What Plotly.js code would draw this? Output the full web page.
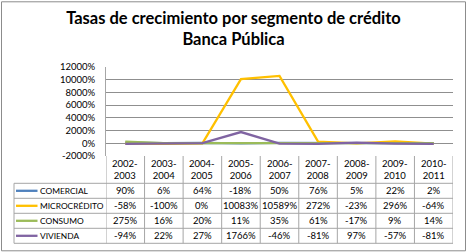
<!DOCTYPE html>
<html>
<head>
<meta charset="utf-8">
<script src="https://cdn.plot.ly/plotly-3.0.1.min.js"></script>
<style>
  html, body { margin: 0; padding: 0; background: #fff; }
  #chart { width: 467px; height: 252px; }
</style>
</head>
<body>
<div id="chart"></div>
<script>
// Periods (categories) and growth rates (%) per credit segment
const periods = ['2002-2003', '2003-2004', '2004-2005', '2005-2006', '2006-2007',
                 '2007-2008', '2008-2009', '2009-2010', '2010-2011'];
const comercial    = [90, 6, 64, -18, 50, 76, 5, 22, 2];
const microcredito = [-58, -100, 0, 10083, 10589, 272, -23, 296, -64];
const consumo      = [275, 16, 20, 11, 35, 61, -17, 9, 14];
const vivienda     = [-94, 22, 27, 1766, -46, -81, 97, -57, -81];

const seriesNames  = ['COMERCIAL', 'MICROCRÉDITO', 'CONSUMO', 'VIVIENDA'];
const seriesValues = [comercial, microcredito, consumo, vivienda];
const seriesColors = ['#4F81BD', '#FFC000', '#9BBB59', '#8064A2'];

const yTickValues = [-2000, 0, 2000, 4000, 6000, 8000, 10000, 12000];
const yTickLabels = ['-2000%', '0%', '2000%', '4000%', '6000%', '8000%', '10000%', '12000%'];

// ---- layout geometry (pixels) ----
const W = 467, H = 252;
const L = 106, R = 453, T = 66.7, B = 155.7;   // plot area
const plotW = R - L, plotH = B - T;
const headerBottom = 183;                      // data table header row
const rowH = 15;                               // data table body rows
const legendLeft = 14;                         // left edge of the legend column
const FONT = 'Lato, "Open Sans", sans-serif';
const TXT = 9.5;
const gridColor = '#8f8f8f';
const tableColor = '#a6a6a6';

const px2x = px => (px - L) / plotW;           // pixel -> paper x
const py2y = py => (B - py) / plotH;           // pixel -> paper y

const traces = seriesNames.map((name, i) => ({
  type: 'scatter',
  mode: 'lines',
  name: name,
  x: periods,
  y: seriesValues[i],
  line: { color: seriesColors[i], width: 2.3 },
  hoverinfo: 'skip'
}));

const shapes = [];
const annotations = [];

// outer chart frame
shapes.push({
  type: 'rect', xref: 'paper', yref: 'paper',
  x0: px2x(1.5), x1: px2x(465.5), y0: py2y(250.5), y1: py2y(1.5),
  line: { color: '#8c8c8c', width: 1 }, fillcolor: 'rgba(0,0,0,0)', layer: 'below'
});

// data table: horizontal rules
const rowTops = [headerBottom];
for (let r = 1; r <= seriesNames.length; r++) rowTops.push(headerBottom + r * rowH);
rowTops.forEach(py => {
  shapes.push({ type: 'line', xref: 'paper', yref: 'paper',
    x0: px2x(legendLeft), x1: 1, y0: py2y(py), y1: py2y(py),
    line: { color: tableColor, width: 1 } });
});
const tableBottom = rowTops[rowTops.length - 1];

// data table: vertical rules on category boundaries
for (let k = 0; k <= periods.length; k++) {
  shapes.push({ type: 'line', xref: 'x', yref: 'paper',
    x0: k - 0.5, x1: k - 0.5, y0: py2y(B), y1: py2y(tableBottom),
    line: { color: tableColor, width: 1 } });
}
// legend column left edge
shapes.push({ type: 'line', xref: 'paper', yref: 'paper',
  x0: px2x(legendLeft), x1: px2x(legendLeft), y0: py2y(headerBottom), y1: py2y(tableBottom),
  line: { color: tableColor, width: 1 } });

const cellFont = { family: FONT, size: TXT, color: '#000' };
const nameFont = { family: FONT, size: 8.4, color: '#000' };

// header cells (period labels)
periods.forEach((p, k) => {
  annotations.push({
    xref: 'x', yref: 'paper', x: k, y: py2y((B + headerBottom) / 2),
    xanchor: 'center', yanchor: 'middle',
    text: p.replace('-', '-<br>'), showarrow: false, font: cellFont, align: 'center'
  });
});

// body rows: legend key, series name, values
seriesNames.forEach((name, i) => {
  const cy = py2y(headerBottom + (i + 0.5) * rowH);
  shapes.push({ type: 'line', xref: 'paper', yref: 'paper',
    x0: px2x(16), x1: px2x(37.5), y0: cy, y1: cy,
    line: { color: seriesColors[i], width: 2.3 } });
  annotations.push({
    xref: 'paper', yref: 'paper', x: px2x(38), y: cy, xanchor: 'left', yanchor: 'middle',
    text: name, showarrow: false, font: nameFont
  });
  seriesValues[i].forEach((v, k) => {
    annotations.push({
      xref: 'x', yref: 'paper', x: k, y: cy, xanchor: 'center', yanchor: 'middle',
      text: v + '%', showarrow: false, font: cellFont
    });
  });
});

const layout = {
  width: W, height: H,
  margin: { l: L, r: W - R, t: T, b: H - B, pad: 0 },
  paper_bgcolor: '#fff', plot_bgcolor: '#fff',
  showlegend: false,
  title: {
    text: '<b>Tasas de crecimiento por segmento de crédito<br>Banca Pública</b>',
    font: { family: FONT, size: 16.5, color: '#000' },
    xref: 'container', x: 0.5, xanchor: 'center',
    yref: 'container', y: 1 - 24 / H, yanchor: 'top'
  },
  xaxis: {
    type: 'category', range: [-0.5, periods.length - 0.5],
    showticklabels: false, showgrid: false, zeroline: false, showline: false, ticks: ''
  },
  yaxis: {
    range: [-2000, 12000], tickvals: yTickValues, ticktext: yTickLabels,
    showgrid: true, gridcolor: gridColor, gridwidth: 1,
    zeroline: false, showline: true, linecolor: tableColor, linewidth: 1,
    ticks: '', ticklabelstandoff: 8,
    tickfont: { family: FONT, size: TXT, color: '#000' }
  },
  shapes: shapes,
  annotations: annotations
};

Plotly.newPlot('chart', traces, layout, { displayModeBar: false, staticPlot: true });
</script>
</body>
</html>
